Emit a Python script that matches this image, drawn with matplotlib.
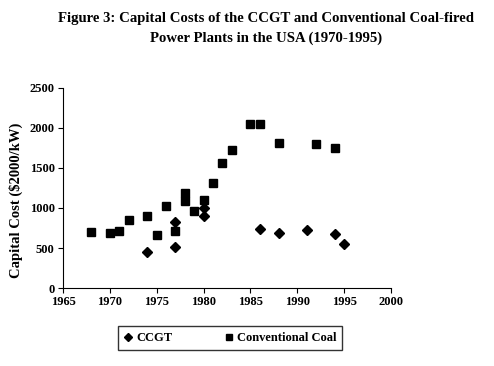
import matplotlib.pyplot as plt

# data
ccgt_year = [1974, 1977, 1977, 1980, 1980, 1986, 1988, 1991, 1994, 1995]
ccgt_cost = [450, 825, 508, 1000, 900, 737, 692, 729, 671, 546]

coal_year = [1968, 1970, 1971, 1972, 1974, 1975, 1976, 1977, 1978, 1978,
             1979, 1980, 1981, 1982, 1983, 1985, 1986, 1988, 1992, 1994]
coal_cost = [696, 683, 717, 850, 904, 667, 1021, 712, 1188, 1092,
             967, 1100, 1312, 1567, 1729, 2046, 2054, 1812, 1800, 1746]

plt.rcParams['font.family'] = "Liberation Serif"
plt.rcParams['font.weight'] = "bold"

fig = plt.figure(figsize=(4.94, 3.66), dpi=100)
ax = fig.add_axes([0.1275, 0.213, 0.664, 0.547])

ax.plot(ccgt_year, ccgt_cost, 'D', color='black', markersize=4.8,
        linestyle='none', label='CCGT')
ax.plot(coal_year, coal_cost, 's', color='black', markersize=6,
        linestyle='none', label='Conventional Coal')

ax.set_xlim(1965, 2000)
ax.set_ylim(0, 2500)
ax.set_xticks(range(1965, 2001, 5))
ax.set_yticks(range(0, 2501, 500))
ax.spines['top'].set_visible(False)
ax.spines['right'].set_visible(False)
ax.tick_params(labelsize=9, length=3.5, direction='out', pad=2.5)
for lbl in ax.get_xticklabels() + ax.get_yticklabels():
    lbl.set_fontweight('bold')
ax.set_ylabel("Capital Cost ($2000/kW)", fontsize=10.5, fontweight='bold')
ax.yaxis.set_label_coords(-0.122, 0.44)

fig.text(0.539, 0.966, "Figure 3: Capital Costs of the CCGT and Conventional Coal-fired\nPower Plants in the USA (1970-1995)",
         ha='center', va='top', fontsize=10.6, fontweight='bold',
         linespacing=1.6)

leg = fig.legend(loc='center', bbox_to_anchor=(0.4656, 0.0765), ncol=2,
                 fontsize=9, frameon=True, fancybox=False,
                 handlelength=0.7, handletextpad=0.3, columnspacing=4.2,
                 borderpad=0.45, markerscale=0.8)
leg.get_frame().set_edgecolor('black')
leg.get_frame().set_linewidth(1.0)

fig.savefig("out.png", dpi=100)
